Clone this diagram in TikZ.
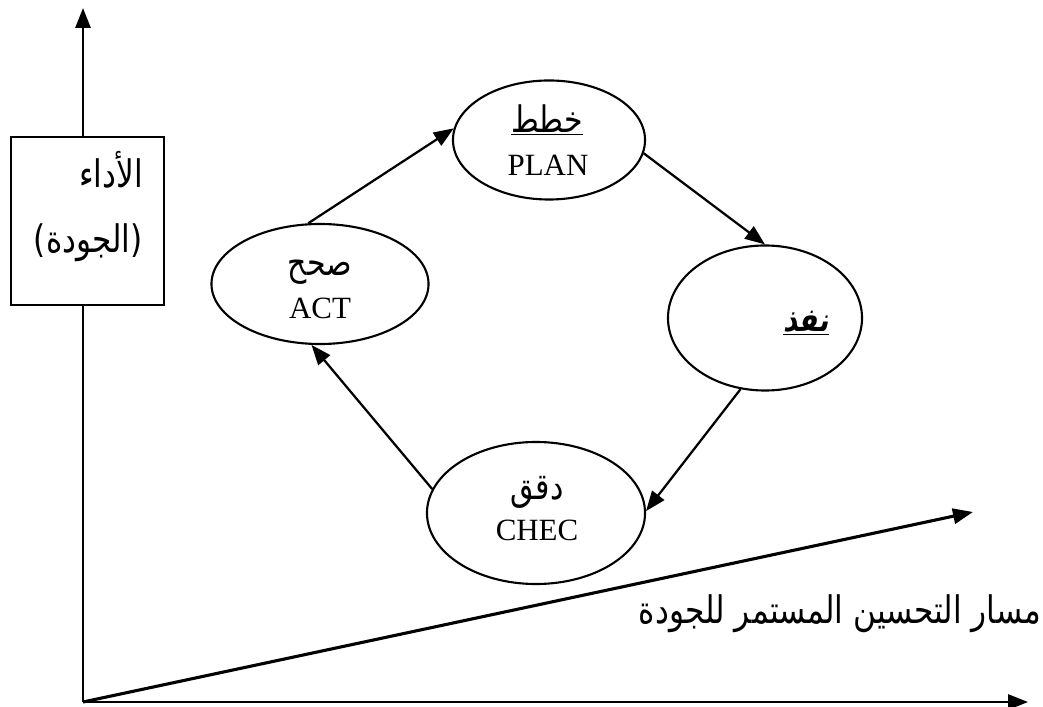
\documentclass[tikz,border=0pt]{standalone}
\usepackage{fontspec}
\setmainfont{Liberation Serif}
\newfontfamily\arabicfont[Script=Arabic,FakeStretch=0.82]{DejaVu Sans}
\newfontfamily\arabicboldslant[Script=Arabic,FakeSlant=0.2,FakeStretch=0.85]{DejaVu Sans Bold}
\TeXXeTstate=1
\usetikzlibrary{shapes.geometric,arrows.meta}
\newcommand\artext[1]{{\arabicfont\beginR #1\endR}}

\begin{document}
\begin{tikzpicture}[x=0.025cm,y=-0.025cm,
  tip/.style={-{Triangle[length=0.5cm,width=0.38cm]}},
  axis/.style={line width=1.7pt,tip},
  arr/.style={line width=1.6pt,tip},
  phase/.style={draw,ellipse,line width=1.5pt,inner sep=0pt},
  latin/.style={inner sep=0pt,font=\fontsize{22}{26}\selectfont},
  arab/.style={inner sep=0pt,font=\fontsize{26}{30}\selectfont},
  label/.style={inner sep=0pt,font=\fontsize{27}{30}\selectfont},
]
\useasboundingbox (0,0) rectangle (1043,707);

% axes and the improvement path
\coordinate (O) at (83,702);
\coordinate (Ytip) at (83,8);
\coordinate (Xtip) at (1028,702);
\coordinate (Dtip) at (973,512);
\draw[axis] (O) -- (Ytip);
\draw[axis] (O) -- (Xtip);
\draw[axis,line width=2.2pt] (O) -- (Dtip);

% vertical axis caption box
\node[draw,fill=white,line width=1.6pt,minimum width=3.825cm,minimum height=4.2cm,inner sep=0pt]
  (box) at (87.5,221) {};
\node[label,anchor=east] (perf) at (143,170) {\artext{الأداء}};
\node[label,anchor=east] (qual) at (143,243) {\artext{(الجودة)}};

% PDCA cycle
\node[phase,minimum width=4.8cm,minimum height=2.975cm] (plan) at (549,140) {};
\node[arab] (planar) at (547,120) {\underline{\artext{خطط}}};
\node[latin] (planen) at (548,165) {PLAN};

\node[phase,minimum width=4.85cm,minimum height=3.625cm] (exec) at (765,318) {};
\node[inner sep=0pt,font=\fontsize{23}{26}\selectfont] (execlbl) at (806,323)
  {\underline{\arabicboldslant\beginR نفذ\endR}};

\node[phase,minimum width=5.45cm,minimum height=3.55cm] (check) at (536,513) {};
\node[arab] (checkar) at (537,492) {\artext{دقق}};
\node[latin] (checken) at (537,530) {CHEC};

\node[phase,minimum width=5.425cm,minimum height=3.0cm] (act) at (320,284) {};
\node[arab] (actar) at (320,272) {\artext{صحح}};
\node[latin] (acten) at (320,308) {ACT};

\draw[arr] (act.101) -- (plan.173);
\draw[arr] (plan.352) -- (exec.90);
\draw[arr] (exec.251) -- (check.1);
\draw[arr] (check.167) -- (act.262);

% path caption
\node[label,anchor=east] (path) at (1041,614) {\artext{مسار التحسين المستمر للجودة}};
\end{tikzpicture}
\end{document}
